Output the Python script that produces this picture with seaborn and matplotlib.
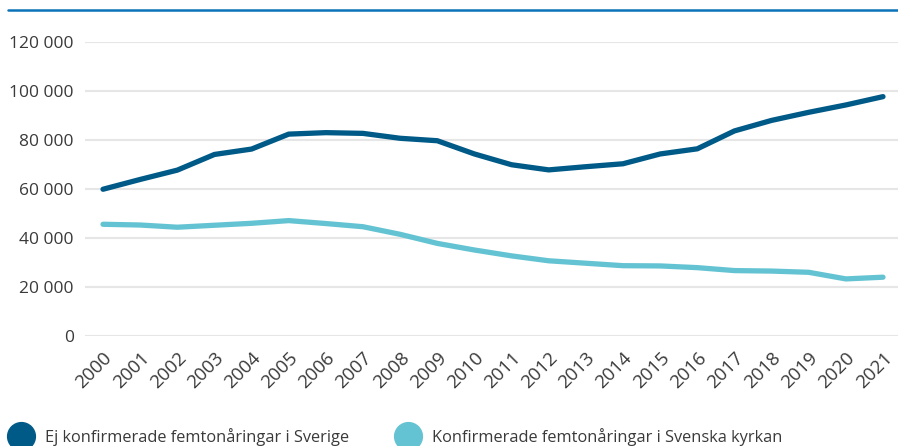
import pandas as pd
from matplotlib import pyplot as plt
from matplotlib.lines import Line2D
import seaborn as sns

years = list(range(2000, 2022))
ej_konfirmerade = [59900, 63900, 67700, 74100, 76300, 82400, 83000, 82700, 80700, 79700,
                   74300, 69900, 67800, 69100, 70300, 74300, 76400, 83700, 88000, 91300,
                   94300, 97700]
konfirmerade = [45600, 45300, 44400, 45200, 46000, 47100, 45900, 44600, 41500, 37800,
                35100, 32700, 30700, 29700, 28700, 28600, 27900, 26700, 26500, 26000,
                23300, 24000]
series_names = ["Ej konfirmerade femtonåringar i Sverige",
                "Konfirmerade femtonåringar i Svenska kyrkan"]
yticks = [0, 20000, 40000, 60000, 80000, 100000, 120000]
colors = ["#005a87", "#64c3d2"]

df = pd.DataFrame({
    "year": years * 2,
    "value": ej_konfirmerade + konfirmerade,
    "serie": [series_names[0]] * len(years) + [series_names[1]] * len(years),
})

sns.set_style("white")
plt.rcParams['font.family'] = ['Open Sans', 'DejaVu Sans']
text_col = "#3a3a3a"

fig = plt.figure(figsize=(8.98, 4.46), dpi=100)
ax = fig.add_axes([85 / 898, 1 - 336 / 446, 813 / 898, 294 / 446])

sns.lineplot(data=df, x="year", y="value", hue="serie", palette=colors,
             linewidth=3.8, ax=ax, legend=False, solid_capstyle='round')

ax.set_ylim(0, 120000)
ax.set_xlim(1999.515, 2021.404)
ax.set_yticks(yticks)
ax.set_yticklabels([f"{v:,}".replace(",", " ") for v in yticks])
ax.set_xticks(years)
ax.set_xticklabels([str(y) for y in years], rotation=45, ha='right', rotation_mode='anchor')
ax.tick_params(axis='y', labelsize=12.5, colors=text_col, length=0, pad=8)
ax.tick_params(axis='x', labelsize=13.5, colors=text_col, length=0, pad=9)
ax.grid(axis='y', color="#e6e6e6", linewidth=1.5)
ax.set_axisbelow(True)
for s in ax.spines.values():
    s.set_visible(False)
ax.set_xlabel("")
ax.set_ylabel("")

# blue line above the chart
fig.add_artist(Line2D([8 / 898, 1], [1 - 10 / 446, 1 - 10 / 446], color="#0a72b8",
                      linewidth=1.8, transform=fig.transFigure))

handles = [Line2D([], [], linestyle='none', marker='o', markersize=20,
                  markerfacecolor=c, markeredgecolor=c) for c in colors]
leg = fig.legend(handles, series_names, loc='center left', bbox_to_anchor=(10 / 898, 0.02),
                 ncol=2, frameon=False, fontsize=11.8, handlelength=1.3,
                 handletextpad=0.85, columnspacing=2.9, borderpad=0, borderaxespad=0)
for t in leg.get_texts():
    t.set_color(text_col)

fig.savefig("out.png", dpi=100)
